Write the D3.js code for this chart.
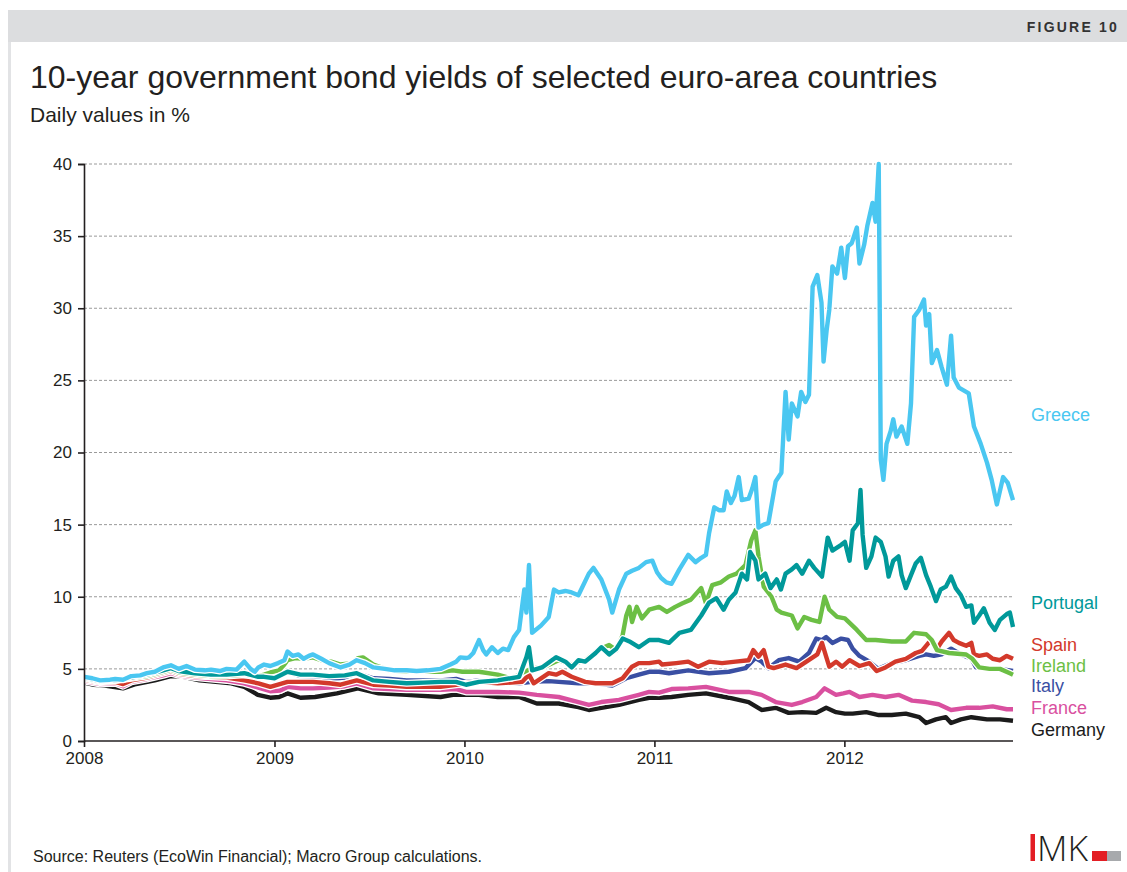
<!DOCTYPE html>
<html>
<head>
<meta charset="utf-8">
<script src="https://cdn.jsdelivr.net/npm/d3@7"></script>
<style>
  html, body { margin: 0; padding: 0; background: #fff; }
  svg { display: block; font-family: "Liberation Sans", Arial, sans-serif; }
</style>
</head>
<body>
<svg id="chart" width="1127" height="872"></svg>
<script>
// 10-year government bond yields, daily values in % (sampled)
const greece = [
  ["2008-01-02",4.45],["2008-01-17",4.35],["2008-02-01",4.2],["2008-02-20",4.25],["2008-03-01",4.3],["2008-03-16",4.25],
  ["2008-04-01",4.5],["2008-04-18",4.55],["2008-05-01",4.7],["2008-05-16",4.8],["2008-06-01",5.1],["2008-06-16",5.25],
  ["2008-07-01",5.0],["2008-07-16",5.2],["2008-08-01",4.95],["2008-08-20",4.9],["2008-09-01",4.95],["2008-09-18",4.85],
  ["2008-10-01",5.0],["2008-10-20",4.95],["2008-11-04",5.5],["2008-11-16",5.0],["2008-11-24",4.8],["2008-12-01",5.1],
  ["2008-12-12",5.3],["2008-12-24",5.2],
  ["2009-01-08",5.4],["2009-01-20",5.6],["2009-01-26",6.2],["2009-02-05",5.9],["2009-02-16",6.0],["2009-02-26",5.7],
  ["2009-03-08",5.9],["2009-03-16",6.0],["2009-04-01",5.7],["2009-04-16",5.4],["2009-05-08",5.1],["2009-05-25",5.3],
  ["2009-06-08",5.6],["2009-06-24",5.4],["2009-07-10",5.1],["2009-08-01",5.0],["2009-08-20",4.9],["2009-09-12",4.9],
  ["2009-10-01",4.85],["2009-10-22",4.9],["2009-11-16",5.0],["2009-12-05",5.3],["2009-12-16",5.5],["2009-12-24",5.8],
  ["2010-01-04",5.75],["2010-01-10",5.8],["2010-01-18",6.1],["2010-01-29",7.0],["2010-02-06",6.3],["2010-02-12",6.0],
  ["2010-02-23",6.5],["2010-03-06",6.1],["2010-03-16",6.4],["2010-03-26",6.3],["2010-04-06",7.2],["2010-04-16",7.7],
  ["2010-04-26",10.5],["2010-04-30",8.9],["2010-05-05",12.2],["2010-05-11",7.5],["2010-05-28",8.0],["2010-06-12",8.6],
  ["2010-06-22",10.5],["2010-07-01",10.3],["2010-07-14",10.4],["2010-07-26",10.3],["2010-08-08",10.1],["2010-08-28",11.6],
  ["2010-09-06",12.0],["2010-09-21",11.2],["2010-10-06",9.8],["2010-10-12",8.9],["2010-10-25",10.5],["2010-11-08",11.6],
  ["2010-11-19",11.8],["2010-12-02",12.0],["2010-12-16",12.4],["2010-12-28",12.5],
  ["2011-01-06",11.7],["2011-01-14",11.3],["2011-01-24",11.0],["2011-02-03",10.9],["2011-02-18",11.9],["2011-03-07",12.9],
  ["2011-03-21",12.4],["2011-04-01",12.7],["2011-04-10",12.9],["2011-04-16",14.4],["2011-04-26",16.2],["2011-05-05",16.0],
  ["2011-05-14",16.0],["2011-05-20",17.3],["2011-05-28",16.5],["2011-06-04",17.0],["2011-06-12",18.3],["2011-06-18",16.7],
  ["2011-07-01",16.8],["2011-07-08",17.5],["2011-07-14",18.3],["2011-07-20",14.8],["2011-07-30",15.0],["2011-08-08",15.1],
  ["2011-08-22",18.0],["2011-09-02",18.6],["2011-09-10",24.2],["2011-09-16",20.9],["2011-09-22",23.4],["2011-10-03",22.5],
  ["2011-10-10",24.2],["2011-10-18",23.5],["2011-10-25",24.0],["2011-11-01",31.5],["2011-11-10",32.3],["2011-11-18",30.4],
  ["2011-11-22",26.3],["2011-11-28",28.5],["2011-12-03",29.9],["2011-12-09",32.9],["2011-12-18",32.4],["2011-12-26",34.2],
  ["2012-01-02",32.1],["2012-01-08",34.3],["2012-01-15",34.5],["2012-01-25",35.6],["2012-01-30",33.1],["2012-02-08",34.4],
  ["2012-02-14",35.7],["2012-02-24",37.3],["2012-03-01",36.0],["2012-03-07",40.0],["2012-03-11",19.5],["2012-03-16",18.1],
  ["2012-03-22",20.6],["2012-03-30",21.5],["2012-04-04",22.3],["2012-04-10",21.1],["2012-04-20",21.8],["2012-05-01",20.6],
  ["2012-05-08",23.4],["2012-05-14",29.4],["2012-05-24",29.9],["2012-06-02",30.6],["2012-06-06",28.8],["2012-06-12",29.6],
  ["2012-06-17",26.2],["2012-06-27",27.1],["2012-07-06",25.9],["2012-07-16",24.7],["2012-07-24",28.1],["2012-07-29",25.2],
  ["2012-08-08",24.5],["2012-08-27",24.1],["2012-09-06",21.8],["2012-09-19",20.6],["2012-10-01",19.3],["2012-10-10",18.1],
  ["2012-10-20",16.4],["2012-11-01",18.3],["2012-11-10",17.9],["2012-11-20",16.7]
];

const portugal = [
  ["2008-01-02",4.4],["2008-02-01",4.15],["2008-03-01",4.2],["2008-04-01",4.4],["2008-05-01",4.6],["2008-06-01",4.9],
  ["2008-06-16",5.05],["2008-07-01",4.85],["2008-08-01",4.7],["2008-09-01",4.6],["2008-10-01",4.6],["2008-11-04",4.7],
  ["2008-12-01",4.45],["2008-12-12",4.45],["2009-01-01",4.35],
  ["2009-01-26",4.8],["2009-02-20",4.6],["2009-03-16",4.6],["2009-04-16",4.5],["2009-05-16",4.55],["2009-06-08",4.7],
  ["2009-07-10",4.2],["2009-08-10",4.1],["2009-09-12",4.0],["2009-10-14",4.05],["2009-11-16",4.1],["2009-12-16",4.1],
  ["2010-01-04",3.9],["2010-01-29",4.1],["2010-03-06",4.2],["2010-04-16",4.45],["2010-04-30",5.8],["2010-05-05",6.5],
  ["2010-05-11",4.9],["2010-05-30",5.1],["2010-06-26",5.8],["2010-07-14",5.5],["2010-07-26",5.1],["2010-08-08",5.6],
  ["2010-08-21",5.5],["2010-09-10",6.1],["2010-09-21",6.5],["2010-10-06",6.0],["2010-10-20",6.4],["2010-11-01",7.1],
  ["2010-11-14",6.9],["2010-12-02",6.5],["2010-12-22",7.0],
  ["2011-01-10",7.0],["2011-01-29",6.8],["2011-02-18",7.5],["2011-03-12",7.7],["2011-04-01",8.7],["2011-04-16",9.6],
  ["2011-04-30",9.9],["2011-05-14",9.1],["2011-05-24",9.8],["2011-06-06",10.3],["2011-06-18",11.6],["2011-06-28",11.2],
  ["2011-07-04",13.1],["2011-07-14",12.5],["2011-07-20",11.2],["2011-08-02",11.6],["2011-08-12",10.6],["2011-08-24",11.2],
  ["2011-09-01",10.5],["2011-09-10",11.6],["2011-09-22",11.9],["2011-10-01",12.2],["2011-10-12",11.6],["2011-10-25",12.5],
  ["2011-11-04",12.0],["2011-11-19",11.4],["2011-11-30",14.1],["2011-12-09",13.2],["2011-12-26",13.6],
  ["2012-01-02",13.8],["2012-01-11",12.5],["2012-01-17",14.6],["2012-01-27",15.1],["2012-02-01",17.4],["2012-02-05",14.3],
  ["2012-02-12",12.0],["2012-02-22",12.8],["2012-03-01",14.1],["2012-03-11",13.8],["2012-03-20",12.8],["2012-03-26",11.4],
  ["2012-04-04",12.5],["2012-04-14",12.8],["2012-04-20",11.5],["2012-04-28",10.6],["2012-05-08",11.5],["2012-05-17",12.3],
  ["2012-05-27",12.7],["2012-06-06",11.5],["2012-06-15",10.7],["2012-06-25",9.7],["2012-07-04",10.5],["2012-07-14",10.7],
  ["2012-07-24",11.4],["2012-08-02",10.6],["2012-08-12",10.1],["2012-08-22",9.3],["2012-09-01",9.4],["2012-09-06",8.2],
  ["2012-09-16",8.7],["2012-09-25",9.2],["2012-10-06",8.2],["2012-10-16",7.7],["2012-10-26",8.4],["2012-11-08",8.8],
  ["2012-11-14",8.9],["2012-11-20",7.9]
];

const ireland = [
  ["2008-01-02",4.35],["2008-02-01",4.1],["2008-03-01",4.2],["2008-04-01",4.35],["2008-05-01",4.5],["2008-06-01",4.8],
  ["2008-06-16",4.95],["2008-07-01",4.75],["2008-08-01",4.6],["2008-09-01",4.5],["2008-10-01",4.5],["2008-11-04",4.6],
  ["2008-12-01",4.5],["2008-12-12",4.6],["2008-12-24",4.75],
  ["2009-01-10",4.9],["2009-01-20",5.3],["2009-01-26",5.6],["2009-02-10",5.75],["2009-02-25",5.7],["2009-03-16",5.8],
  ["2009-04-01",5.6],["2009-04-20",5.5],["2009-05-08",5.3],["2009-05-30",5.4],["2009-06-10",5.75],["2009-06-20",5.8],
  ["2009-07-10",5.3],["2009-08-10",4.9],["2009-09-12",4.8],["2009-10-14",4.8],["2009-11-16",4.8],["2009-12-10",4.9],
  ["2009-12-28",4.8],
  ["2010-01-29",4.8],["2010-03-06",4.6],["2010-04-01",4.35],["2010-04-16",4.6],["2010-05-11",5.05],["2010-06-01",5.1],
  ["2010-07-01",5.6],["2010-07-26",5.3],["2010-08-21",5.6],["2010-09-14",6.3],["2010-10-06",6.65],["2010-10-20",6.3],
  ["2010-11-01",7.35],["2010-11-08",8.7],["2010-11-14",9.3],["2010-11-19",8.25],["2010-11-28",9.3],["2010-12-08",8.5],
  ["2010-12-22",9.1],
  ["2011-01-10",9.3],["2011-01-25",8.95],["2011-02-10",9.3],["2011-02-24",9.55],["2011-03-12",9.8],["2011-04-01",10.6],
  ["2011-04-10",9.55],["2011-04-22",10.8],["2011-05-09",11.0],["2011-05-24",11.4],["2011-06-08",11.6],["2011-06-25",12.2],
  ["2011-07-06",13.9],["2011-07-14",14.6],["2011-07-20",12.8],["2011-07-30",10.7],["2011-08-14",10.0],["2011-08-24",9.1],
  ["2011-09-02",8.9],["2011-09-22",8.7],["2011-10-03",7.8],["2011-10-16",8.6],["2011-10-30",8.4],["2011-11-14",8.25],
  ["2011-11-24",10.0],["2011-12-03",9.1],["2011-12-18",8.6],
  ["2012-01-02",8.5],["2012-01-05",8.4],["2012-01-25",7.7],["2012-02-12",7.0],["2012-03-01",7.0],["2012-04-01",6.9],
  ["2012-04-28",6.9],["2012-05-14",7.5],["2012-06-06",7.4],["2012-06-17",7.0],["2012-06-27",6.3],["2012-07-20",6.1],
  ["2012-08-22",6.0],["2012-09-03",5.7],["2012-09-16",5.1],["2012-10-06",5.0],["2012-10-26",5.0],["2012-11-14",4.7],
  ["2012-11-20",4.6]
];

const spain = [
  ["2008-01-02",4.25],["2008-02-01",4.05],["2008-03-01",4.1],["2008-03-16",3.95],["2008-04-01",4.2],["2008-05-01",4.4],
  ["2008-06-01",4.7],["2008-06-16",4.85],["2008-07-01",4.65],["2008-08-01",4.5],["2008-09-01",4.45],["2008-10-01",4.4],
  ["2008-11-04",4.2],["2008-12-01",4.0],["2008-12-24",3.75],
  ["2009-01-26",4.1],["2009-02-20",4.1],["2009-03-16",4.1],["2009-04-16",4.0],["2009-05-08",3.9],["2009-06-08",4.2],
  ["2009-07-10",3.9],["2009-08-10",3.85],["2009-09-12",3.75],["2009-10-14",3.75],["2009-11-16",3.75],["2009-12-16",3.9],
  ["2010-01-04",4.0],["2010-01-29",4.1],["2010-03-06",4.0],["2010-04-22",4.1],["2010-05-05",4.6],["2010-05-14",4.0],
  ["2010-06-12",4.7],["2010-06-26",4.6],["2010-07-08",4.8],["2010-07-26",4.45],["2010-08-21",4.1],["2010-09-10",4.0],
  ["2010-10-12",4.0],["2010-11-01",4.35],["2010-11-19",5.15],["2010-12-02",5.4],["2010-12-22",5.4],
  ["2011-01-10",5.5],["2011-01-16",5.3],["2011-02-12",5.4],["2011-03-07",5.5],["2011-03-26",5.15],["2011-04-16",5.5],
  ["2011-05-11",5.4],["2011-06-06",5.5],["2011-07-01",5.6],["2011-07-10",6.3],["2011-07-20",5.85],["2011-07-30",6.3],
  ["2011-08-08",5.15],["2011-08-18",5.05],["2011-09-10",5.3],["2011-10-01",5.05],["2011-10-20",5.5],["2011-11-10",6.0],
  ["2011-11-19",6.8],["2011-11-27",5.85],["2011-12-03",5.15],["2011-12-16",5.5],["2011-12-28",5.15],
  ["2012-01-11",5.6],["2012-01-30",5.2],["2012-02-18",5.4],["2012-03-03",4.85],["2012-03-20",5.1],["2012-04-08",5.5],
  ["2012-04-28",5.7],["2012-05-17",6.1],["2012-05-29",6.25],["2012-06-06",6.6],["2012-06-15",7.0],["2012-06-27",6.4],
  ["2012-07-06",6.9],["2012-07-20",7.5],["2012-07-29",7.0],["2012-08-08",6.8],["2012-08-22",6.6],["2012-09-01",6.8],
  ["2012-09-06",6.0],["2012-09-16",5.9],["2012-10-01",6.0],["2012-10-12",5.7],["2012-10-26",5.6],["2012-11-08",5.9],
  ["2012-11-20",5.7]
];

const italy = [
  ["2008-01-02",4.4],["2008-02-01",4.2],["2008-03-01",4.3],["2008-03-16",4.15],["2008-04-01",4.35],["2008-05-01",4.55],
  ["2008-06-01",4.85],["2008-06-16",4.95],["2008-07-01",4.75],["2008-08-01",4.6],["2008-09-01",4.55],["2008-10-01",4.55],
  ["2008-11-04",4.6],["2008-12-01",4.5],["2008-12-24",4.4],
  ["2009-01-26",4.8],["2009-02-20",4.5],["2009-03-16",4.45],["2009-04-16",4.3],["2009-05-16",4.4],["2009-06-08",4.7],
  ["2009-07-10",4.35],["2009-08-10",4.3],["2009-09-12",4.2],["2009-10-14",4.2],["2009-11-16",4.2],["2009-12-16",4.3],
  ["2010-01-04",4.1],["2010-01-29",4.2],["2010-03-06",4.1],["2010-04-16",4.0],["2010-05-11",4.1],["2010-06-12",4.15],
  ["2010-07-01",4.1],["2010-08-08",4.0],["2010-09-10",4.0],["2010-10-12",3.85],["2010-11-08",4.35],["2010-12-02",4.6],
  ["2010-12-22",4.8],
  ["2011-01-10",4.8],["2011-01-29",4.7],["2011-03-07",4.9],["2011-04-16",4.7],["2011-05-24",4.8],["2011-06-25",5.05],
  ["2011-07-14",5.75],["2011-07-26",5.5],["2011-08-08",5.05],["2011-08-28",5.6],["2011-09-16",5.75],["2011-10-06",5.5],
  ["2011-10-25",6.1],["2011-11-08",7.1],["2011-11-19",7.0],["2011-11-27",7.2],["2011-12-09",6.8],["2011-12-26",7.1],
  ["2012-01-08",7.0],["2012-01-17",6.4],["2012-01-30",5.9],["2012-02-18",5.5],["2012-03-06",5.0],["2012-04-01",5.4],
  ["2012-04-28",5.6],["2012-05-24",5.9],["2012-06-06",6.0],["2012-06-21",5.9],["2012-07-06",6.0],["2012-07-24",6.4],
  ["2012-08-12",6.0],["2012-09-01",5.7],["2012-09-10",5.1],["2012-10-01",5.0],["2012-10-26",5.0],["2012-11-20",4.85]
];

const france = [
  ["2008-01-02",4.15],["2008-02-01",3.95],["2008-03-01",4.0],["2008-03-16",3.8],["2008-04-01",4.1],["2008-05-01",4.3],
  ["2008-06-01",4.55],["2008-06-16",4.7],["2008-07-01",4.55],["2008-08-01",4.4],["2008-09-01",4.3],["2008-10-01",4.2],
  ["2008-11-04",4.0],["2008-12-01",3.7],["2008-12-24",3.45],
  ["2009-01-12",3.5],["2009-01-26",3.75],["2009-02-20",3.65],["2009-03-16",3.65],["2009-04-16",3.7],["2009-05-16",3.8],
  ["2009-06-08",4.0],["2009-07-10",3.65],["2009-08-10",3.6],["2009-09-12",3.55],["2009-10-14",3.55],["2009-11-16",3.55],
  ["2009-12-16",3.6],
  ["2010-01-04",3.4],["2010-01-29",3.4],["2010-03-06",3.4],["2010-04-16",3.35],["2010-05-20",3.2],["2010-07-01",3.05],
  ["2010-08-08",2.7],["2010-08-28",2.5],["2010-09-21",2.7],["2010-10-25",2.85],["2010-12-02",3.2],["2010-12-22",3.4],
  ["2011-01-10",3.35],["2011-02-03",3.6],["2011-03-07",3.65],["2011-04-10",3.75],["2011-05-24",3.4],["2011-07-01",3.4],
  ["2011-07-26",3.2],["2011-08-22",2.7],["2011-09-22",2.5],["2011-10-12",2.7],["2011-11-08",3.05],["2011-11-24",3.65],
  ["2011-12-16",3.2],["2011-12-30",3.3],
  ["2012-01-11",3.4],["2012-01-30",3.05],["2012-02-24",3.2],["2012-03-20",3.05],["2012-04-14",3.2],["2012-05-10",2.8],
  ["2012-06-06",2.7],["2012-06-30",2.55],["2012-07-24",2.15],["2012-08-22",2.3],["2012-09-16",2.3],["2012-10-12",2.4],
  ["2012-11-08",2.2],["2012-11-20",2.2]
];

const germany = [
  ["2008-01-02",4.05],["2008-01-20",3.9],["2008-02-10",3.85],["2008-03-16",3.65],["2008-04-10",3.95],["2008-05-16",4.2],
  ["2008-06-16",4.5],["2008-07-10",4.45],["2008-08-10",4.2],["2008-09-10",4.1],["2008-10-10",4.0],["2008-11-04",3.75],
  ["2008-11-30",3.2],["2008-12-24",3.0],
  ["2009-01-10",3.05],["2009-01-26",3.3],["2009-02-20",3.0],["2009-03-20",3.05],["2009-05-01",3.3],["2009-06-10",3.65],
  ["2009-07-20",3.3],["2009-09-12",3.2],["2009-11-16",3.05],["2009-12-10",3.2],["2009-12-28",3.2],
  ["2010-01-29",3.2],["2010-03-06",3.05],["2010-04-16",3.05],["2010-05-20",2.6],["2010-07-01",2.6],["2010-08-08",2.35],
  ["2010-08-28",2.15],["2010-09-21",2.3],["2010-10-25",2.5],["2010-12-02",2.85],["2010-12-22",3.0],
  ["2011-01-10",3.0],["2011-02-03",3.05],["2011-03-07",3.2],["2011-04-10",3.3],["2011-05-24",3.0],["2011-07-01",2.7],
  ["2011-07-26",2.15],["2011-08-22",2.3],["2011-09-16",1.95],["2011-10-12",2.0],["2011-11-08",1.95],["2011-11-27",2.3],
  ["2011-12-16",2.0],
  ["2012-01-02",1.9],["2012-01-17",1.9],["2012-02-12",2.0],["2012-03-07",1.8],["2012-04-01",1.8],["2012-04-28",1.9],
  ["2012-05-24",1.65],["2012-06-06",1.25],["2012-06-25",1.5],["2012-07-14",1.65],["2012-07-24",1.25],["2012-08-12",1.5],
  ["2012-09-01",1.65],["2012-10-01",1.5],["2012-10-26",1.5],["2012-11-20",1.4]
];

const countries = ["Germany", "France", "Italy", "Spain", "Ireland", "Portugal", "Greece"];
const seriesValues = [germany, france, italy, spain, ireland, portugal, greece];
const colors = ["#1b1b1b", "#d9509f", "#3a4fa3", "#d3392b", "#6cbf45", "#00999a", "#4ac7f1"];
// legend label positions, as values on the y scale
const labelValues = [0.8, 2.3, 3.8, 6.65, 5.2, 9.6, 22.6];
const yTicks = [0, 5, 10, 15, 20, 25, 30, 35, 40];
const xTickYears = ["2008", "2009", "2010", "2011", "2012"];

const parse = d3.timeParse("%Y-%m-%d");
const svg = d3.select("#chart");

// page frame: header bar and left rule
svg.append("rect").attr("x", 8).attr("y", 10).attr("width", 1119).attr("height", 32).attr("fill", "#dcdddf");
svg.append("rect").attr("x", 8).attr("y", 42).attr("width", 3).attr("height", 830).attr("fill", "#e2e3e5");
svg.append("text").attr("x", 1119).attr("y", 32).attr("text-anchor", "end")
  .attr("font-size", 14).attr("font-weight", "bold").attr("letter-spacing", 2.2).attr("fill", "#333")
  .text("FIGURE 10");

svg.append("text").attr("x", 30).attr("y", 88).attr("font-size", 32).attr("fill", "#231f20")
  .text("10-year government bond yields of selected euro-area countries");
svg.append("text").attr("x", 30).attr("y", 122).attr("font-size", 21).attr("fill", "#231f20")
  .text("Daily values in %");

const x = d3.scaleTime().domain([parse("2008-01-01"), parse("2012-11-20")]).range([84, 1013]);
const y = d3.scaleLinear().domain([0, 40]).range([741, 164]);

// dashed gridlines
svg.append("g").selectAll("line").data(yTicks.filter(v => v > 0)).join("line")
  .attr("x1", 84).attr("x2", 1013).attr("y1", d => y(d)).attr("y2", d => y(d))
  .attr("stroke", "#9a9a9a").attr("stroke-width", 1).attr("stroke-dasharray", "3,2");

// series, each with a thin white halo
const line = d3.line().x(d => x(parse(d[0]))).y(d => y(d[1]));
const gLines = svg.append("g");
seriesValues.forEach((vals, i) => {
  gLines.append("path").attr("d", line(vals)).attr("fill", "none")
    .attr("stroke", "#fff").attr("stroke-width", 7).attr("stroke-linejoin", "round");
  gLines.append("path").attr("d", line(vals)).attr("fill", "none")
    .attr("stroke", colors[i]).attr("stroke-width", 4.4).attr("stroke-linejoin", "round");
});

// axes
const yAxis = d3.axisLeft(y).tickValues(yTicks).tickSize(6).tickPadding(6).tickFormat(d3.format("d"));
const gy = svg.append("g").attr("transform", "translate(84,0)").call(yAxis);
const xAxis = d3.axisBottom(x).tickValues(xTickYears.map(s => parse(s + "-01-01")))
  .tickSize(6).tickPadding(5).tickFormat(d3.timeFormat("%Y"));
const gx = svg.append("g").attr("transform", "translate(0,741)").call(xAxis);
[gx, gy].forEach(g => {
  g.select(".domain").attr("stroke", "#231f20").attr("stroke-width", 1.6);
  g.selectAll(".tick line").attr("stroke", "#231f20").attr("stroke-width", 1.6);
  g.selectAll("text").attr("font-size", 17).attr("fill", "#231f20")
    .attr("font-family", "Liberation Sans, Arial, sans-serif");
});
gx.select(".domain").attr("d", "M84,0H1013");

// labels at the right of each line
svg.append("g").selectAll("text").data(countries).join("text")
  .attr("x", 1031).attr("y", (d, i) => y(labelValues[i])).attr("dy", "0.35em")
  .attr("font-size", 18).attr("fill", (d, i) => colors[i]).text(d => d);

// source note
svg.append("text").attr("x", 33).attr("y", 862).attr("font-size", 16).attr("fill", "#231f20")
  .text("Source: Reuters (EcoWin Financial); Macro Group calculations.");

// IMK logo
svg.append("rect").attr("x", 1030.5).attr("y", 834).attr("width", 4.5).attr("height", 27).attr("fill", "#e31e24");
svg.append("text").attr("x", 1037).attr("y", 861).attr("font-size", 34).attr("font-weight", 300)
  .attr("font-family", "'Open Sans', sans-serif").attr("fill", "#231f20").attr("textLength", 51)
  .attr("lengthAdjust", "spacingAndGlyphs").text("MK");
svg.append("rect").attr("x", 1092).attr("y", 851).attr("width", 15).attr("height", 10).attr("fill", "#e31e24");
svg.append("rect").attr("x", 1107).attr("y", 851).attr("width", 14).attr("height", 10).attr("fill", "#a7a9ac");
</script>
</body>
</html>
